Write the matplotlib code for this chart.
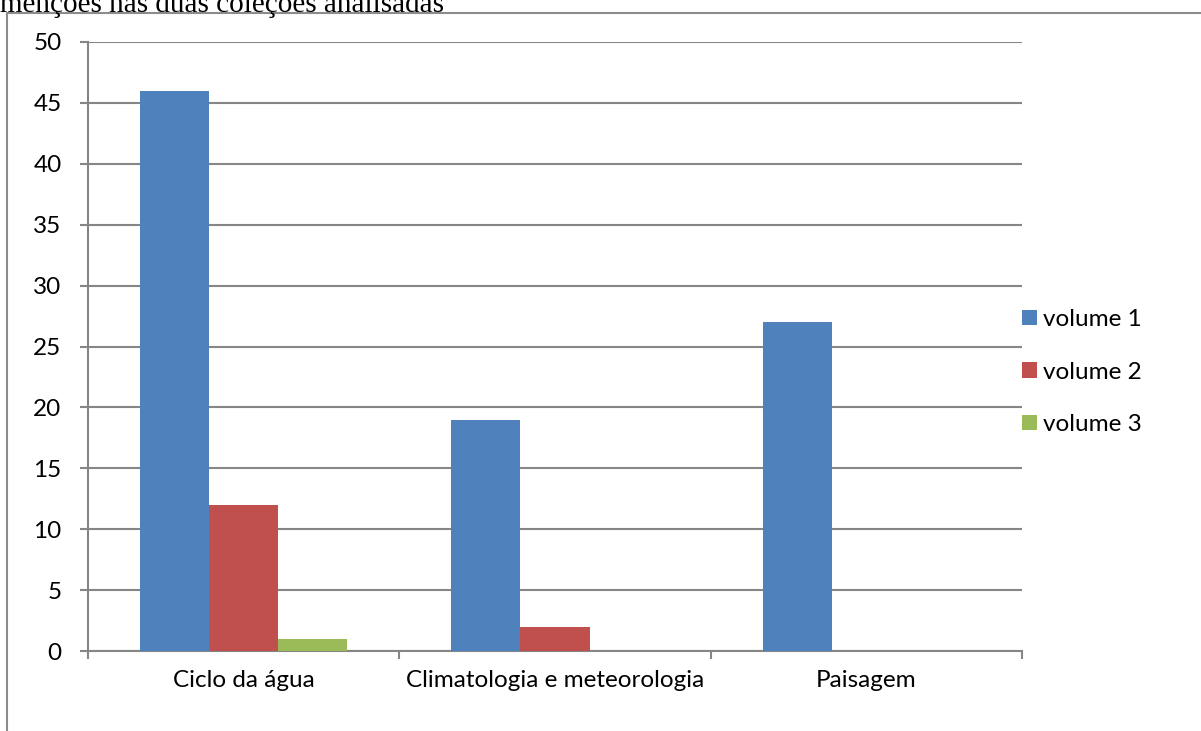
import matplotlib.pyplot as plt
import numpy as np
from matplotlib.patches import Rectangle
from matplotlib.ticker import FixedLocator

# dados por categoria
categorias = ["Ciclo da água", "Climatologia e meteorologia", "Paisagem"]
volume_1 = [46, 19, 27]
volume_2 = [12, 2, 0]
volume_3 = [1, 0, 0]
series = (
    (volume_1, "volume 1", "#4F81BD"),
    (volume_2, "volume 2", "#C0504D"),
    (volume_3, "volume 3", "#9BBB59"),
)

GRID_COLOR = "#868686"
FONT = ["Lato", "DejaVu Sans"]
FONTSIZE = 17.5
BAR_WIDTH = 0.222

plt.rcParams["font.family"] = FONT

fig = plt.figure(figsize=(12.01, 7.31), dpi=100)
ax = fig.add_axes([88 / 1201, 1 - 651 / 731, 934 / 1201, 609 / 731])

# moldura externa do gráfico
frame = Rectangle(
    (7 / 1201, -0.1), 1.2, 1 - 13 / 731 + 0.1,
    transform=fig.transFigure, fill=False, edgecolor="#8c8c8c", linewidth=1.5, clip_on=False,
)
fig.patches.append(frame)

# legenda do texto, cortada no topo
fig.text(0.0, 1 - 12 / 731, "menções nas duas coleções analisadas",
         fontsize=21, family="Liberation Serif", va="baseline", ha="left")

centers = np.arange(len(categorias)) + 0.5
for i, (values, name, color) in enumerate(series):
    ax.bar(centers + (i - 1) * BAR_WIDTH, values, width=BAR_WIDTH, color=color, label=name, zorder=3)

ax.set_xlim(0, 3)
ax.set_ylim(0, 50)
ax.set_yticks(np.arange(0, 51, 5))
ax.grid(axis="y", color=GRID_COLOR, linewidth=1.5, zorder=0)

ax.xaxis.set_major_locator(FixedLocator([0, 1, 2, 3]))
ax.xaxis.set_minor_locator(FixedLocator(centers))
ax.set_xticklabels([])
ax.set_xticklabels(categorias, minor=True)
ax.tick_params(axis="x", which="major", length=6, width=1.5, color=GRID_COLOR)
ax.tick_params(axis="x", which="minor", length=0, pad=14, labelsize=FONTSIZE)
ax.tick_params(axis="y", length=6, width=1.5, color=GRID_COLOR, pad=13, labelsize=FONTSIZE)

for side in ("top", "right"):
    ax.spines[side].set_visible(False)
for side in ("left", "bottom"):
    ax.spines[side].set_color(GRID_COLOR)
    ax.spines[side].set_linewidth(1.5)

fig.legend(
    loc="center left", bbox_to_anchor=(1022 / 1201, 1 - 372 / 731), frameon=False,
    fontsize=FONTSIZE, handlelength=0.6, handleheight=0.6, handletextpad=0.25, labelspacing=1.3,
    borderaxespad=0, borderpad=0,
)

fig.savefig("out.png", dpi=100)
